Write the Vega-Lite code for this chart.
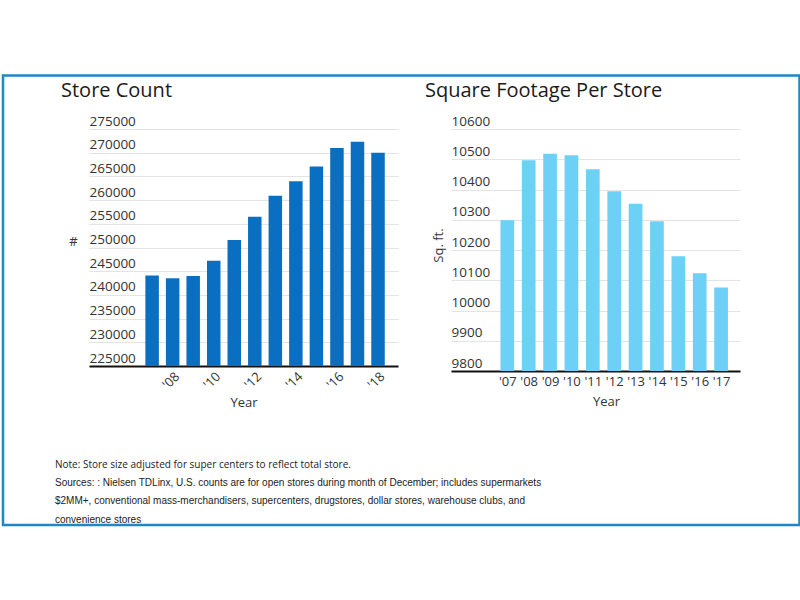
{
  "$schema": "https://vega.github.io/schema/vega-lite/v6.json",
  "background": "white",
  "padding": {"left": 1, "top": 74, "right": 0, "bottom": 0},
  "bounds": "flush",
  "config": {
    "view": {"stroke": null},
    "font": "Open Sans",
    "axis": {"labelFont": "Open Sans", "titleFont": "Open Sans", "labelColor": "#333333", "titleColor": "#333333", "titleFontWeight": "normal", "labelOverlap": false},
    "title": {"font": "Open Sans", "fontWeight": "normal", "color": "#1a1a1a", "fontSize": 20, "anchor": "start", "frame": "group"}
  },
  "vconcat": [
    {
      "bounds": "flush",
      "hconcat": [
        {
          "title": {"text": "Store Count", "dx": -28, "offset": 13},
          "width": 309,
          "height": 237,
          "data": {"values": [
            {"year": 2007, "count": 244100},
            {"year": 2008, "count": 243500},
            {"year": 2009, "count": 244000},
            {"year": 2010, "count": 247200},
            {"year": 2011, "count": 251600},
            {"year": 2012, "count": 256500},
            {"year": 2013, "count": 260900},
            {"year": 2014, "count": 264000},
            {"year": 2015, "count": 267100},
            {"year": 2016, "count": 271000},
            {"year": 2017, "count": 272300},
            {"year": 2018, "count": 270000}
          ]},
          "mark": {"type": "bar", "orient": "vertical", "color": "#0b6fc1", "size": 13.5, "clip": true},
          "encoding": {
            "x": {
              "field": "year", "type": "quantitative",
              "scale": {"domain": [2004.17, 2018.73], "nice": false, "zero": false},
              "axis": {
                "values": [2008, 2010, 2012, 2014, 2016, 2018],
                "labelExpr": "\"'\" + slice(toString(datum.value), 2)",
                "labelAngle": -45, "labelFontSize": 13, "labelPadding": 4,
                "grid": false, "ticks": false, "tickSize": 0,
                "domainColor": "#111111", "domainWidth": 2,
                "title": "Year", "titleFontSize": 13, "titleY": 36, "titleBaseline": "middle"
              }
            },
            "y": {
              "field": "count", "type": "quantitative",
              "scale": {"domain": [225000, 275000], "nice": false, "zero": false},
              "axis": {
                "values": [225000, 230000, 235000, 240000, 245000, 250000, 255000, 260000, 265000, 270000, 275000],
                "format": "d",
                "labelAlign": "left", "labelBaseline": "bottom", "labelPadding": 0, "labelOffset": -1,
                "labelFontSize": 13.5, "minExtent": 0,
                "ticks": false, "tickSize": 0, "domain": false,
                "gridColor": "#e4e4e4", "gridWidth": 1,
                "title": "#", "titleAngle": 0, "titleFontSize": 13, "titleX": -16, "titleY": 112,
                "titleAlign": "center", "titleBaseline": "middle"
              }
            }
          }
        },
        {
          "title": {"text": "Square Footage Per Store", "dx": -26, "offset": 13},
          "width": 289,
          "height": 242,
          "data": {"values": [
            {"year": 2007, "sqft": 10298},
            {"year": 2008, "sqft": 10497},
            {"year": 2009, "sqft": 10518},
            {"year": 2010, "sqft": 10513},
            {"year": 2011, "sqft": 10467},
            {"year": 2012, "sqft": 10394},
            {"year": 2013, "sqft": 10353},
            {"year": 2014, "sqft": 10295},
            {"year": 2015, "sqft": 10179},
            {"year": 2016, "sqft": 10123},
            {"year": 2017, "sqft": 10076}
          ]},
          "mark": {"type": "bar", "orient": "vertical", "color": "#6dd1f6", "size": 13.7, "clip": true},
          "encoding": {
            "x": {
              "field": "year", "type": "quantitative",
              "scale": {"domain": [2004.6, 2017.65], "nice": false, "zero": false},
              "axis": {
                "values": [2007, 2008, 2009, 2010, 2011, 2012, 2013, 2014, 2015, 2016, 2017],
                "labelExpr": "\"'\" + slice(toString(datum.value), 2)",
                "labelAngle": 0, "labelFontSize": 13, "labelPadding": 4,
                "grid": false, "ticks": false, "tickSize": 0,
                "domainColor": "#111111", "domainWidth": 2,
                "title": "Year", "titleFontSize": 13, "titleX": 155, "titleY": 30, "titleBaseline": "middle"
              }
            },
            "y": {
              "field": "sqft", "type": "quantitative",
              "scale": {"domain": [9800, 10600], "nice": false, "zero": false},
              "axis": {
                "values": [9800, 9900, 10000, 10100, 10200, 10300, 10400, 10500, 10600],
                "format": "d",
                "labelAlign": "left", "labelBaseline": "bottom", "labelPadding": 0, "labelOffset": -1,
                "labelFontSize": 13.5, "minExtent": 0,
                "ticks": false, "tickSize": 0, "domain": false,
                "gridColor": "#e4e4e4", "gridWidth": 1,
                "title": "Sq. ft.", "titleAngle": -90, "titleFontSize": 13, "titleX": -13, "titleY": 116,
                "titleAlign": "center", "titleBaseline": "middle"
              }
            }
          }
        }
      ],
      "spacing": 53
    },
    {
      "width": 650,
      "height": 73,
      "layer": [
        {
          "data": {"values": [{"part": "frame"}]},
          "mark": {"type": "rect", "fill": null, "stroke": "#1f87c5", "strokeWidth": 2.5, "clip": false},
          "encoding": {
            "x": {"datum": -0.1323, "type": "quantitative", "scale": {"domain": [0, 1]}, "axis": null},
            "x2": {"datum": 1.0931},
            "y": {"datum": -20.336, "type": "quantitative", "scale": {"domain": [0.5, 4.5], "reverse": true, "nice": false, "zero": false}, "axis": null},
            "y2": {"datum": 4.2945}
          }
        },
        {
          "data": {"values": [
            {"line": 1, "font": "note", "text": "Note: Store size adjusted for super centers to reflect total store."},
            {"line": 2, "font": "source", "text": "Sources: : Nielsen TDLinx, U.S. counts are for open stores during month of December; includes supermarkets"},
            {"line": 3, "font": "source", "text": "$2MM+, conventional mass-merchandisers, supercenters, drugstores, dollar stores, warehouse clubs, and"},
            {"line": 4, "font": "source", "text": "convenience stores"}
          ]},
          "encoding": {
            "x": {"datum": 0, "type": "quantitative"},
            "y": {"field": "line", "type": "quantitative"},
            "text": {"field": "text"}
          },
          "layer": [
            {
              "transform": [{"filter": "datum.font == 'note'"}],
              "mark": {"type": "text", "align": "left", "baseline": "middle", "font": "Open Sans", "fontSize": 10, "color": "#222222", "dx": -34}
            },
            {
              "transform": [{"filter": "datum.font == 'source'"}],
              "mark": {"type": "text", "align": "left", "baseline": "middle", "font": "Liberation Sans", "fontSize": 10, "color": "#222222", "dx": -34}
            }
          ]
        }
      ]
    }
  ],
  "spacing": 326.85
}
